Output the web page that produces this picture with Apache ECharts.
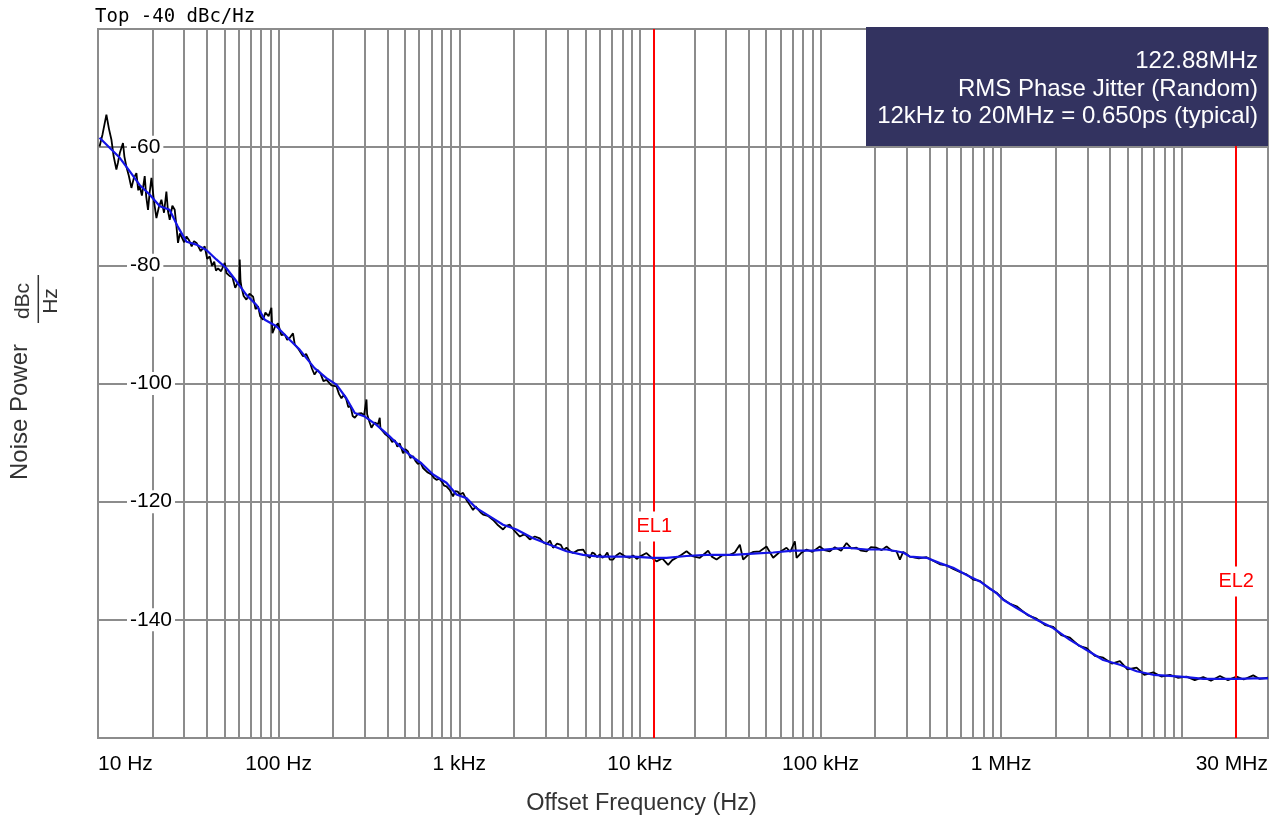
<!DOCTYPE html>
<html><head><meta charset="utf-8">
<script src="https://cdn.jsdelivr.net/npm/echarts@6/dist/echarts.min.js"></script>
<style>html,body{margin:0;padding:0;background:#fff}#c{width:1274px;height:823px}</style>
</head><body><div id="c"></div>
<script>
// ---- axis / label data ----
const tickValues = [10, 100, 1000, 10000, 100000, 1000000, 30000000];
const tickLabels = ['10 Hz', '100 Hz', '1 kHz', '10 kHz', '100 kHz', '1 MHz', '30 MHz'];
const decadeStarts = [10, 100, 1000, 10000, 100000, 1000000, 10000000];
const minorMultipliers = [2, 3, 4, 5, 6, 7, 8, 9];
const yGridValues = [-60, -80, -100, -120, -140];
const markerFreqs = [12000, 20000000];
const markerNames = ['EL1', 'EL2'];
const markerLabelDb = [-124.2, -133.5];
const infoLines = ['122.88MHz', 'RMS Phase Jitter (Random)', '12kHz to 20MHz = 0.650ps (typical)'];

// ---- measured (raw) phase noise, black ----
const rawFreq = [10.2, 10.6, 11.13, 11.5, 11.86, 12.2, 12.64, 12.9, 13.2, 13.75, 14.0, 14.36, 14.8, 15.31, 15.8, 16.32, 16.7, 17.02, 17.5, 18.14,
  18.5, 18.92, 19.3, 19.76, 20.4, 21.06, 21.7, 22.44, 23.2, 23.91, 24.4, 24.95, 25.8, 26.59, 27.2, 27.73, 28.4, 29.0, 30.0, 30.9,
  32.0, 33.0, 34.0, 35.1, 37.0, 38.97, 40.2, 41.54, 42.8, 44.0, 45.0, 46.18, 48.0, 50.3, 51.4, 53.5, 55.5, 57.5, 59.5, 60.5,
  60.9, 61.5, 62.2, 64.0, 66.3, 69.0, 72.2, 74.5, 76.9, 79.0, 81.9, 84.5, 88.0, 91.2, 92.4, 95.5, 99.2, 103.5, 108.1, 111.5,
  115, 120.1, 122.8, 129, 136.5, 142, 148.7, 153, 158, 164, 170, 177, 184, 196, 209, 216, 222.7, 230, 237, 243,
  250, 257, 264, 275, 287.3, 297, 306.4, 309, 312.6, 319, 326.4, 340, 355, 362.9, 366, 370.8, 390, 412.3, 425, 440,
  454, 468, 488.4, 503, 520, 536, 554.9, 572, 590, 610, 630.3, 665, 701.7, 725, 747.7, 775, 800, 825, 849, 885,
  924, 950, 980, 1010, 1050, 1096, 1140, 1192, 1230, 1270, 1310, 1355, 1440, 1539, 1640, 1748, 1820, 1904, 2030, 2163,
  2300, 2457, 2620, 2791, 2920, 3050, 3180, 3307, 3480, 3650, 3780, 3923, 4100, 4267, 4550, 4848, 5050, 5280, 5450, 5600,
  5800, 6000, 6200, 6400, 6600, 6812, 7107, 7400, 7740, 7900, 8300, 8794, 9170, 9600, 9986, 10880, 11500, 12360, 13300, 14330,
  15100, 15950, 17000, 18120, 19500, 21470, 23860, 25000, 26560, 28500, 31470, 33500, 35750, 37280, 40000, 42500, 46120, 50230, 54650, 59000,
  64810, 68000, 72080, 73660, 78000, 83670, 90000, 99100, 105000, 112600, 120000, 130000, 139300, 148000, 158200, 168000, 179800, 190000, 204200, 218000,
  232000, 248000, 263500, 274900, 286700, 300000, 312300, 350000, 386400, 420000, 457700, 500000, 542300, 590000, 643300, 700000, 762400, 850000, 943000, 1026000,
  1120000, 1217000, 1400000, 1571000, 1750000, 1941000, 2150000, 2401000, 2700000, 2971000, 3300000, 3671000, 4100000, 4543000, 5000000, 5620000, 6200000, 6944000, 7700000, 8594000,
  9500000, 10630000, 11800000, 13140000, 14500000, 16260000, 18000000, 20110000, 22000000, 24850000, 27000000, 30000000];
const rawDb = [-59.9, -57.8, -54.5, -56.9, -58.7, -61.5, -63.8, -62.6, -61.0, -59.3, -61.6, -63.3, -64.8, -66.9, -65.2, -64.4, -67.3, -66.6, -68.2, -64.9,
  -68.4, -70.6, -67.8, -65.2, -69.1, -72.0, -70.2, -68.9, -71.1, -67.5, -70.8, -72.3, -69.9, -70.6, -73.5, -76.2, -74.6, -74.3, -76.1, -75.1,
  -75.8, -76.8, -75.9, -76.2, -77.6, -76.8, -78.9, -78.5, -80.1, -79.4, -80.9, -80.5, -81.0, -79.6, -81.3, -81.8, -82.0, -83.8, -82.9, -83.4,
  -79.0, -82.6, -83.6, -85.2, -85.8, -84.8, -85.3, -87.4, -86.9, -88.6, -89.2, -88.0, -88.6, -87.2, -91.5, -90.4, -89.8, -91.8, -91.7, -92.6,
  -92.3, -91.5, -93.4, -94.2, -95.4, -95.0, -96.3, -97.5, -98.5, -97.7, -98.2, -99.6, -99.4, -100.3, -100.5, -101.8, -102.5, -101.9, -102.7, -104.0,
  -103.8, -105.5, -105.8, -105.1, -105.0, -105.4, -102.7, -105.2, -105.3, -106.6, -107.5, -106.6, -106.9, -105.8, -107.6, -107.8, -108.6, -109.2, -109.9, -109.6,
  -110.7, -110.1, -111.8, -111.1, -111.5, -112.6, -112.3, -113.1, -113.6, -113.4, -114.3, -115.0, -115.4, -116.0, -116.3, -116.1, -116.6, -117.3, -117.4, -118.0,
  -119.1, -118.2, -118.3, -118.8, -118.5, -119.7, -120.5, -121.4, -120.8, -121.3, -121.8, -122.2, -122.4, -123.1, -124.0, -124.7, -124.1, -123.9, -125.0, -125.9,
  -125.5, -126.4, -125.9, -126.2, -126.9, -127.2, -126.6, -127.8, -127.1, -127.3, -128.2, -127.8, -128.4, -128.7, -128.2, -128.1, -129.0, -129.5, -128.6, -128.8,
  -129.4, -128.9, -129.5, -129.2, -128.6, -129.8, -129.8, -129.1, -128.7, -128.4, -129.3, -129.5, -129.1, -129.7, -129.3, -128.7, -129.4, -130.1, -129.6, -130.7,
  -129.9, -129.5, -129.0, -128.4, -129.2, -129.5, -128.3, -129.3, -129.8, -129.1, -129.0, -128.6, -127.3, -129.8, -128.9, -128.5, -128.4, -127.6, -129.5, -128.6,
  -127.8, -128.5, -126.7, -129.5, -128.7, -128.1, -128.5, -127.6, -128.2, -128.4, -127.7, -128.3, -127.0, -127.9, -127.8, -128.3, -128.4, -127.7, -127.8, -128.2,
  -127.6, -128.3, -128.4, -129.8, -128.5, -128.9, -129.3, -129.6, -129.4, -130.0, -130.6, -130.8, -131.4, -131.9, -132.3, -133.2, -133.4, -134.6, -135.4, -136.5,
  -137.3, -137.7, -139.2, -139.8, -140.9, -141.2, -142.6, -143.0, -144.4, -144.8, -146.1, -146.4, -147.4, -147.0, -148.4, -148.1, -149.3, -148.9, -149.6, -149.3,
  -149.8, -149.6, -150.2, -149.7, -150.3, -149.5, -150.2, -149.6, -150.1, -149.4, -150.0, -149.8];

// ---- smoothed phase noise, blue ----
const smoothFreq = [10.2, 11.6, 13.2, 15.0, 17.0, 19.3, 22.0, 24.9, 27.6, 30.9, 35.1, 39.8, 45.2, 51.4, 58.4, 66.3, 75.4, 83.8, 97.2, 115,
  131, 158, 184, 209, 237, 264, 300, 348, 403, 468, 532, 617, 716, 849, 965, 1096, 1245, 1475, 1748, 2073,
  2563, 3170, 3923, 4848, 6000, 7421, 9170, 11834, 14040, 18120, 23380, 32820, 42350, 54650, 70530, 91000, 117450, 139300, 179800, 232000,
  286700, 312300, 386400, 457700, 542300, 643300, 762400, 943000, 1026000, 1217000, 1571000, 1941000, 2401000, 2971000, 3671000, 4543000, 5620000, 6944000, 8594000, 10630000,
  13140000, 16260000, 20110000, 24850000, 30000000];
const smoothDb = [-58.4, -60.1, -61.8, -64.1, -66.4, -68.0, -70.0, -70.6, -73.4, -76.0, -76.5, -77.4, -79.0, -80.5, -82.7, -85.0, -86.7, -89.2, -90.3, -92.6,
  -94.3, -97.4, -99.1, -100.2, -102.5, -105.0, -105.6, -107.0, -108.7, -110.6, -112.1, -113.5, -115.4, -116.8, -118.8, -119.4, -121.1, -122.5, -123.9, -124.7,
  -126.2, -127.3, -128.4, -129.0, -129.3, -129.3, -129.3, -129.5, -129.5, -129.2, -129.0, -129.0, -128.8, -128.6, -128.3, -128.3, -128.0, -127.8, -128.1, -128.1,
  -128.6, -129.3, -129.5, -130.4, -131.2, -132.4, -133.5, -135.5, -136.6, -138.0, -140.0, -141.4, -143.4, -145.1, -146.8, -147.6, -148.7, -149.3, -149.5, -149.7,
  -150.0, -150.0, -150.0, -149.9, -149.9];

const rawData = rawFreq.map((f, i) => [f, rawDb[i]]);
const smoothData = smoothFreq.map((f, i) => [f, smoothDb[i]]);
const minorGrid = [];
decadeStarts.forEach(d => minorMultipliers.forEach(m => { if (d * m < 30000000) minorGrid.push({ xAxis: d * m }); }));
const hGrid = yGridValues.map(v => ({ yAxis: v }));

const FONT = '"Liberation Sans", Arial, Helvetica, sans-serif';
const GRID_C = '#8c8c8c';

const chart = echarts.init(document.getElementById('c'), null, { renderer: 'canvas' });
chart.setOption({
  animation: false,
  backgroundColor: '#fff',
  grid: { left: 98, right: 6, top: 29, bottom: 85, show: true, borderColor: GRID_C, borderWidth: 2, backgroundColor: 'transparent' },
  xAxis: {
    type: 'log', logBase: 10, min: 10, max: 30000000,
    name: 'Offset Frequency (Hz)', nameLocation: 'middle', nameGap: 54,
    nameTextStyle: { fontFamily: FONT, fontSize: 23.5, color: '#333', padding: [0, 83, 0, 0] },
    axisLine: { show: false },
    axisTick: { show: false },
    splitLine: { show: true, lineStyle: { color: GRID_C, width: 2 } },
    axisLabel: {
      fontFamily: FONT, fontSize: 21, color: '#000', margin: 16,
      showMinLabel: true, showMaxLabel: true, alignMinLabel: 'left', alignMaxLabel: 'right',
      formatter: function (v) {
        const i = tickValues.findIndex(t => Math.abs(t - v) / t < 1e-6);
        return i >= 0 ? tickLabels[i] : '';
      }
    }
  },
  yAxis: {
    type: 'value', min: -160, max: -40, interval: 20, z: 2,
    axisLine: { show: false }, axisTick: { show: false },
    splitLine: { show: false },
    axisLabel: {
      inside: true, margin: 29, fontFamily: FONT, fontSize: 21, color: '#000',
      showMinLabel: false, showMaxLabel: false,
      backgroundColor: '#fff', padding: [1, 3]
    }
  },
  series: [
    {
      name: 'grid', type: 'line', data: [], silent: true, z: 1,
      markLine: {
        silent: true, symbol: ['none', 'none'], z: 1, animation: false,
        label: { show: false },
        lineStyle: { color: GRID_C, width: 2, type: 'solid' },
        emphasis: { disabled: true },
        data: minorGrid.concat(hGrid)
      }
    },
    {
      name: 'Measured', type: 'line', data: rawData, showSymbol: false, symbol: 'none', z: 3,
      lineStyle: { color: '#000', width: 1.8 }, itemStyle: { color: '#000' }
    },
    {
      name: 'Smoothed', type: 'line', data: smoothData, showSymbol: false, symbol: 'none', z: 4,
      lineStyle: { color: '#1414e6', width: 2.2 }, itemStyle: { color: '#1414e6' },
      markLine: {
        silent: true, symbol: ['none', 'none'], z: 4, animation: false,
        label: { show: false },
        lineStyle: { color: '#ff0000', width: 2, type: 'solid' },
        emphasis: { disabled: true },
        data: markerFreqs.map(f => ({ xAxis: f }))
      },
      markPoint: {
        silent: true, z: 6, animation: false,
        symbol: 'circle', symbolSize: 1,
        itemStyle: { color: 'rgba(0,0,0,0)' },
        label: {
          show: true, position: 'inside', formatter: '{b}', color: '#ff0000',
          fontFamily: FONT, fontSize: 20, backgroundColor: '#fff', padding: [5, 2]
        },
        data: markerNames.map((n, i) => ({ name: n, coord: [markerFreqs[i], markerLabelDb[i]] }))
      }
    }
  ],
  graphic: [
    {
      type: 'text', z: 100, x: 95, y: 17,
      style: { text: 'Top -40 dBc/Hz', font: '19px "DejaVu Sans Mono", monospace', fill: '#000', textVerticalAlign: 'middle', verticalAlign: 'middle' }
    },
    {
      type: 'rect', z: 100, shape: { x: 866, y: 27, width: 402, height: 119 },
      style: { fill: '#333360' }
    },
    {
      type: 'text', z: 101, x: 1258, y: 48,
      style: {
        text: infoLines.join('\n'), font: '24px ' + FONT, fill: '#fff', lineHeight: 27.5,
        textAlign: 'right', align: 'right', textVerticalAlign: 'top', verticalAlign: 'top'
      }
    },
    {
      type: 'text', z: 100, x: 20, y: 412, rotation: Math.PI / 2,
      style: { text: 'Noise Power', font: '24px ' + FONT, fill: '#333', textAlign: 'center', align: 'center', textVerticalAlign: 'middle', verticalAlign: 'middle' }
    },
    {
      type: 'text', z: 100, x: 23, y: 301, rotation: Math.PI / 2,
      style: { text: 'dBc', font: '21px ' + FONT, fill: '#333', textAlign: 'center', align: 'center', textVerticalAlign: 'middle', verticalAlign: 'middle' }
    },
    {
      type: 'line', z: 100, shape: { x1: 38.3, y1: 275, x2: 38.3, y2: 323 },
      style: { stroke: '#333', lineWidth: 1.5 }
    },
    {
      type: 'text', z: 100, x: 51.5, y: 301, rotation: Math.PI / 2,
      style: { text: 'Hz', font: '21px ' + FONT, fill: '#333', textAlign: 'center', align: 'center', textVerticalAlign: 'middle', verticalAlign: 'middle' }
    }
  ]
});
</script></body></html>
